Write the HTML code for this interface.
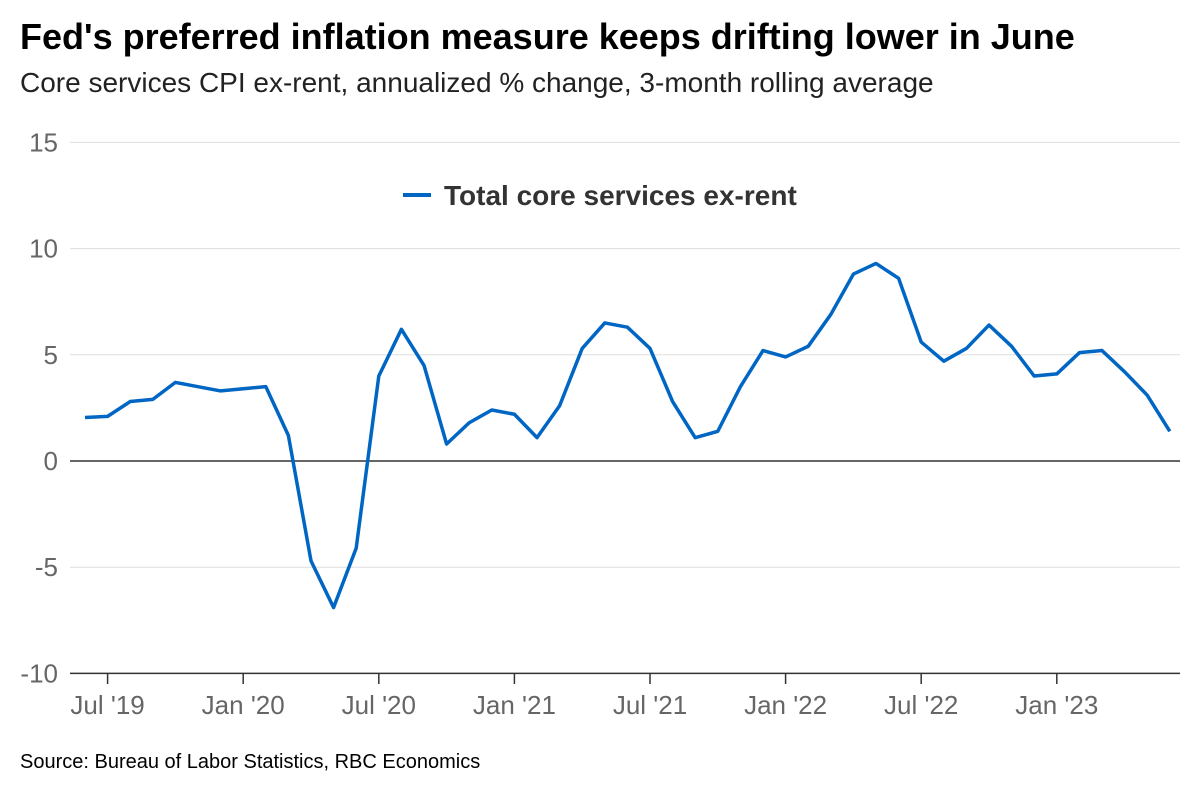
<!DOCTYPE html>
<html><head><meta charset="utf-8"><style>
body{margin:0;background:#fff;font-family:"Liberation Sans",sans-serif;}
svg text{font-family:"Liberation Sans",sans-serif;}
</style></head><body>
<svg id="chart" width="1200" height="800">
<text x="20" y="49" font-size="36" font-weight="bold" fill="#000">Fed's preferred inflation measure keeps drifting lower in June</text>
<text x="20" y="92" font-size="28" fill="#222">Core services CPI ex-rent, annualized % change, 3-month rolling average</text>
<g id="grid"></g><g id="xaxis"></g>
<g>
<line x1="403" y1="195" x2="431" y2="195" stroke="#0066c4" stroke-width="4"/>
<text x="444" y="205" font-size="28" font-weight="bold" fill="#333">Total core services ex-rent</text>
</g>
<path id="line" fill="none" stroke="#0066c4" stroke-width="3.5" stroke-linejoin="round"/>
<text x="20" y="768" font-size="20" fill="#000">Source: Bureau of Labor Statistics, RBC Economics</text>
</svg>
<script>
const values=[2.05,2.1,2.8,2.9,3.7,3.5,3.3,3.4,3.5,1.2,-4.7,-6.9,-4.1,4.0,6.2,4.5,0.8,1.8,2.4,2.2,1.1,2.6,5.3,6.5,6.3,5.3,2.8,1.1,1.4,3.5,5.2,4.9,5.4,6.9,8.8,9.3,8.6,5.6,4.7,5.3,6.4,5.4,4.0,4.1,5.1,5.2,4.2,3.1,1.4];
const yTicks=[15,10,5,0,-5,-10];
const yTickLabels=["15","10","5","0","-5","-10"];
const xTickIndex=[1,7,13,19,25,31,37,43];
const xTickLabels=["Jul '19","Jan '20","Jul '20","Jan '21","Jul '21","Jan '22","Jul '22","Jan '23"];
const NS="http://www.w3.org/2000/svg";
const y=v=>461-v*21.24;
const x=i=>85+i*22.6;
const grid=document.getElementById('grid'),xa=document.getElementById('xaxis');
yTicks.forEach((t,k)=>{
  const l=document.createElementNS(NS,'line');
  l.setAttribute('x1',70);l.setAttribute('x2',1180);l.setAttribute('y1',y(t));l.setAttribute('y2',y(t));
  l.setAttribute('stroke',t===0||t===-10?'#333':'#ddd');l.setAttribute('stroke-width',t===0||t===-10?1.5:1);
  
  
  grid.appendChild(l);
  const tx=document.createElementNS(NS,'text');
  tx.setAttribute('x',58);tx.setAttribute('y',y(t)+9);tx.setAttribute('text-anchor','end');tx.setAttribute('font-size',26);tx.setAttribute('fill','#666');
  tx.textContent=yTickLabels[k];
  
  
  grid.appendChild(tx);
});
xTickIndex.forEach((ix,k)=>{
  const l=document.createElementNS(NS,'line');
  l.setAttribute('x1',x(ix));l.setAttribute('x2',x(ix));l.setAttribute('y1',673);l.setAttribute('y2',684);l.setAttribute('stroke','#333');l.setAttribute('stroke-width',1.5);
  
  
  xa.appendChild(l);
  const tx=document.createElementNS(NS,'text');
  tx.setAttribute('x',x(ix));tx.setAttribute('y',714);tx.setAttribute('text-anchor','middle');tx.setAttribute('font-size',26);tx.setAttribute('fill','#666');
  tx.textContent=xTickLabels[k];
  
  
  xa.appendChild(tx);
});
document.getElementById('line').setAttribute('d',values.map((v,i)=>(i?'L':'M')+x(i)+','+y(v)).join(''));
</script>
</body></html>
